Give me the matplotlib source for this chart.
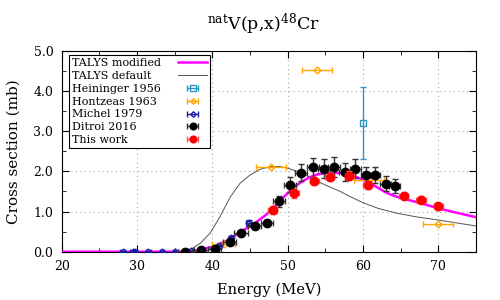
import numpy as np
import matplotlib
matplotlib.use("Agg")
import matplotlib.pyplot as plt
from matplotlib.ticker import MultipleLocator, FormatStrFormatter

plt.rcParams['font.family'] = ['DejaVu Serif']
plt.rcParams['mathtext.fontset'] = 'dejavuserif'

# TALYS curves
talys_mod_e = [20, 30, 36, 38, 40, 41, 42, 43, 44, 45, 46, 47, 48, 49, 50, 51, 52, 53, 54,
               55, 56, 57, 58, 59, 60, 61, 62, 63, 64, 65, 66, 68, 70, 72, 75]
talys_mod_xs = [0, 0, 0, 0.03, 0.12, 0.2, 0.28, 0.4, 0.52, 0.63, 0.76, 0.9, 1.07, 1.27, 1.46,
                1.63, 1.76, 1.86, 1.93, 1.96, 1.97, 1.96, 1.93, 1.87, 1.79, 1.70, 1.59, 1.48,
                1.40, 1.34, 1.29, 1.19, 1.08, 0.99, 0.86]

talys_def_e = [20, 30, 36.5, 37, 38.4, 39.7, 41, 42.4, 43.7, 45, 46.3, 47.7, 49, 50, 51, 52,
               53, 54, 55, 56, 57, 58, 60, 62, 64.5, 67, 70, 75]
talys_def_xs = [0, 0, 0, 0.04, 0.21, 0.46, 0.87, 1.37, 1.71, 1.91, 2.05, 2.12, 2.12, 2.08,
                2.02, 1.94, 1.85, 1.75, 1.66, 1.58, 1.5, 1.4, 1.22, 1.08, 0.96, 0.87, 0.79, 0.64]

# experimental data
hein_e = [60.0]
hein_xs = [3.2]
hein_dxs = [0.9]

hont_e = [41.5, 47.8, 53.9, 60.8, 70.0]
hont_xs = [0.2, 2.1, 4.52, 1.78, 0.70]
hont_de = [1.5, 2.0, 2.0, 2.0, 2.0]

mich_e = [28.1, 29.4, 29.7, 31.5, 33.3, 35.1, 37.1, 38.6, 40.9, 42.5, 44.8]
mich_xs = [0, 0, 0, 0, 0, 0, 0.01, 0.02, 0.13, 0.35, 0.71]
mich_de = [0.3, 0.3, 0.3, 0.3, 0.3, 0.3, 0.3, 0.3, 0.3, 0.3, 0.3]
mich_dxs = [0.01, 0.01, 0.01, 0.01, 0.01, 0.01, 0.01, 0.02, 0.03, 0.05, 0.07]

ditr_e = [36.4, 38.5, 40.3, 42.3, 43.8, 45.6, 47.3, 48.8, 50.3, 51.8, 53.3, 54.8, 56.2,
          57.6, 59.0, 60.4, 61.6, 63.0, 64.2]
ditr_xs = [0, 0.05, 0.07, 0.23, 0.46, 0.64, 0.72, 1.26, 1.67, 1.97, 2.10, 2.07, 2.12,
           1.98, 2.07, 1.91, 1.91, 1.69, 1.64]
ditr_de = [0.9, 0.9, 0.9, 0.9, 0.9, 0.9, 0.8, 0.8, 0.8, 0.8, 0.8, 0.8, 0.8,
           0.8, 0.7, 0.7, 0.7, 0.7, 0.7]
ditr_dxs = [0.01, 0.01, 0.02, 0.03, 0.05, 0.07, 0.08, 0.14, 0.18, 0.22, 0.24, 0.24, 0.25,
            0.22, 0.24, 0.21, 0.21, 0.19, 0.18]

this_e = [48.0, 50.9, 53.5, 55.6, 58.2, 60.6, 65.4, 67.7, 70.0]
this_xs = [1.04, 1.45, 1.76, 1.86, 1.89, 1.67, 1.40, 1.30, 1.13]
this_de = [0.6, 0.6, 0.6, 0.6, 0.6, 0.6, 0.6, 0.6, 0.6]
this_dxs = [0.09, 0.1, 0.11, 0.11, 0.11, 0.1, 0.09, 0.08, 0.08]

# marker style per data set: (label, marker, size, face, edge, bar colour)
styles = {
    'hein': ('Heininger 1956', 's', 5, 'none', '#2a96c4', '#2a96c4'),
    'hont': ('Hontzeas 1963', 'D', 3.5, 'none', '#ffa500', '#ffa500'),
    'mich': ('Michel 1979', 'D', 3.5, 'none', '#1c1ca0', '#1c1ca0'),
    'ditr': ('Ditroi 2016', 'o', 6, 'black', 'black', '#333333'),
    'this': ('This work', 'o', 6, 'red', 'red', '#ff5555'),
}


def draw_set(ax, key, e, xs, de=None, dxs=None, z=4):
    label, m, ms, fc, mc, bc = styles[key]
    ax.errorbar(e, xs, xerr=de, yerr=dxs, fmt=m, ms=ms, mfc=fc, mec=mc, mew=1,
                ecolor=bc, elinewidth=1, capsize=2.5, zorder=z)
    # legend proxy (nothing visible on the axes): horizontal bar with caps
    return ax.errorbar([np.nan], [np.nan], xerr=[1], fmt=m, ms=ms, mfc=fc, mec=mc, mew=1,
                       ecolor=bc, elinewidth=1, capsize=2.5, label=label)


# left-align legend labels while keeping the handles on the right
def left_align_legend(fig, leg, gap_pt):
    fig.canvas.draw()
    renderer = fig.canvas.get_renderer()
    texts = leg.get_texts()
    widths = [t.get_window_extent(renderer).width * 72.0 / fig.dpi for t in texts]
    wmax = max(widths)
    rows = []
    for col in leg._legend_handle_box.get_children():
        rows.extend(col.get_children())
    for row, w in zip(rows, widths):
        row.sep = gap_pt + (wmax - w)


fig = plt.figure(figsize=(5, 3), dpi=100)
ax = fig.add_axes([0.1234, 0.161, 0.8286, 0.669])

l1, = ax.plot(talys_mod_e, talys_mod_xs, color='magenta', lw=1.8, label='TALYS modified', zorder=3)
l2, = ax.plot(talys_def_e, talys_def_xs, color='#555555', lw=0.7, label='TALYS default', zorder=2)

h_hein = draw_set(ax, 'hein', hein_e, hein_xs, dxs=hein_dxs)
h_hont = draw_set(ax, 'hont', hont_e, hont_xs, de=hont_de)
h_mich = draw_set(ax, 'mich', mich_e, mich_xs, de=mich_de, dxs=mich_dxs, z=5)
h_ditr = draw_set(ax, 'ditr', ditr_e, ditr_xs, de=ditr_de, dxs=ditr_dxs, z=6)
h_this = draw_set(ax, 'this', this_e, this_xs, de=this_de, dxs=this_dxs, z=7)

ax.set_xlim(20, 75)
ax.set_ylim(0, 5)
ax.xaxis.set_major_locator(MultipleLocator(10))
ax.xaxis.set_minor_locator(MultipleLocator(5))
ax.yaxis.set_major_locator(MultipleLocator(1))
ax.yaxis.set_minor_locator(MultipleLocator(0.5))
ax.yaxis.set_major_formatter(FormatStrFormatter('%.1f'))
ax.tick_params(which='both', direction='in', top=True, right=True, labelsize=9, pad=6)
ax.tick_params(which='major', length=5)
ax.tick_params(which='minor', length=3)
ax.grid(True, which='major', ls=(0, (1, 3)), color='#aaaaaa', lw=0.8)

ax.set_xlabel('Energy (MeV)', fontsize=10.6)
ax.set_ylabel('Cross section (mb)', fontsize=11)
ax.xaxis.set_label_coords(0.5, -0.155)
ax.yaxis.set_label_coords(-0.1, 0.5)
ax.set_title(r'$^{\mathrm{nat}}$V(p,x)$^{48}$Cr', fontsize=12.5, pad=15, x=0.488)

handles = [l1, l2, h_hein, h_hont, h_mich, h_ditr, h_this]
leg = ax.legend(handles=handles, loc='upper left', bbox_to_anchor=(0.018, 0.98), fontsize=8,
                markerfirst=False, fancybox=False, edgecolor='black', framealpha=1,
                handlelength=2.6, borderaxespad=0, labelspacing=0.25, borderpad=0.3,
                handletextpad=1.5, markerscale=0.8)
leg.get_frame().set_linewidth(0.8)
left_align_legend(fig, leg, 12)

fig.savefig('out.png', dpi=100)
